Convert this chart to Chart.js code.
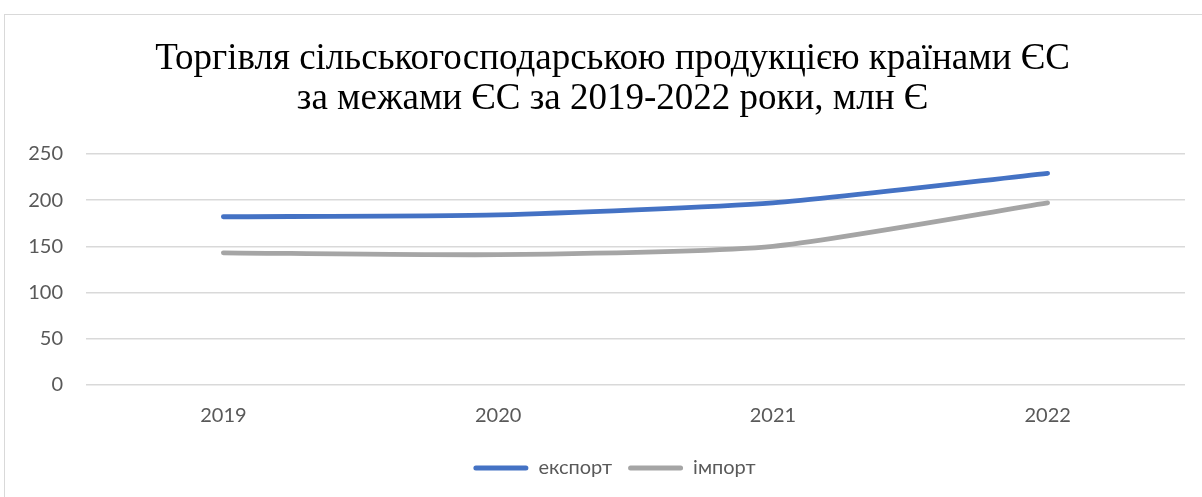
<!DOCTYPE html>
<html>
<head>
<meta charset="utf-8">
<script src="https://cdn.jsdelivr.net/npm/chart.js@4.4.1/dist/chart.umd.min.js"></script>
<style>
  html, body { margin: 0; padding: 0; background: #fff; overflow: hidden; }
  #frame { position: absolute; left: 4px; top: 14px; width: 1300px; height: 600px; border: 1px solid #D9D9D9; box-sizing: border-box; }
  #wrap { position: absolute; left: 0; top: 0; width: 1202px; height: 497px; }
</style>
</head>
<body>
<div id="frame"></div>
<div id="wrap"><canvas id="c" width="1202" height="497"></canvas></div>
<script>
const titleLines = ["Торгівля сільськогосподарською продукцією країнами ЄС", "за межами ЄС за 2019-2022 роки, млн Є"];
const categories = ["2019", "2020", "2021", "2022"];
const exportValues = [182, 184, 197, 229];
const importValues = [143, 141, 150, 197];
const seriesNames = ["експорт", "імпорт"];
const yTicks = { min: 0, max: 250, step: 50 };

const tickFont = { family: "Lato, 'Open Sans', sans-serif", size: 20 };
const tickColor = "#595959";

// shift the title and legend blocks so they are centred like the reference
const blockShift = {
  id: 'blockShift',
  afterLayout(chart) {
    if (chart.titleBlock) { chart.titleBlock.left = 40; }
    if (chart.legend) { chart.legend.left = 44; }
  }
};

new Chart(document.getElementById('c'), {
  type: 'line',
  data: {
    labels: categories,
    datasets: [
      { label: seriesNames[0], data: exportValues, borderColor: '#4472C4', backgroundColor: '#4472C4', borderWidth: 4.8, pointRadius: 0, tension: 0.2, borderCapStyle: 'round', borderJoinStyle: 'round' },
      { label: seriesNames[1], data: importValues, borderColor: '#A5A5A5', backgroundColor: '#A5A5A5', borderWidth: 4.8, pointRadius: 0, tension: 0.2, borderCapStyle: 'round', borderJoinStyle: 'round' }
    ]
  },
  plugins: [blockShift],
  options: {
    responsive: false,
    animation: false,
    layout: { padding: { left: 0, right: 17, top: 0, bottom: 9 } },
    plugins: {
      title: {
        display: true,
        text: titleLines,
        color: '#000',
        font: { family: "'Liberation Serif', 'Times New Roman', serif", size: 37, weight: 'normal', lineHeight: 1.08 },
        padding: { top: 39, bottom: 35 }
      },
      legend: {
        position: 'bottom',
        labels: {
          color: tickColor,
          font: tickFont,
          boxWidth: 55,
          boxHeight: 5,
          padding: 16,
          useBorderRadius: true,
          borderRadius: 2.5,
          generateLabels: (chart) => chart.data.datasets.map((ds, i) => ({
            text: ds.label, fillStyle: ds.borderColor, strokeStyle: ds.borderColor, lineWidth: 0, borderRadius: 2.5, datasetIndex: i, hidden: false, fontColor: tickColor
          }))
        }
      },
      tooltip: { enabled: false }
    },
    scales: {
      x: {
        offset: true,
        grid: { display: false, drawTicks: false },
        border: { display: false },
        ticks: { color: tickColor, font: tickFont, padding: 19 },
        afterFit: (s) => { s.height = 57; }
      },
      y: {
        min: yTicks.min, max: yTicks.max,
        grid: { color: '#D9D9D9', lineWidth: 1.5, drawTicks: false },
        border: { display: false },
        ticks: { stepSize: yTicks.step, color: tickColor, font: tickFont, padding: 23 },
        afterFit: (s) => { s.width = 86; }
      }
    }
  }
});
</script>
</body>
</html>
